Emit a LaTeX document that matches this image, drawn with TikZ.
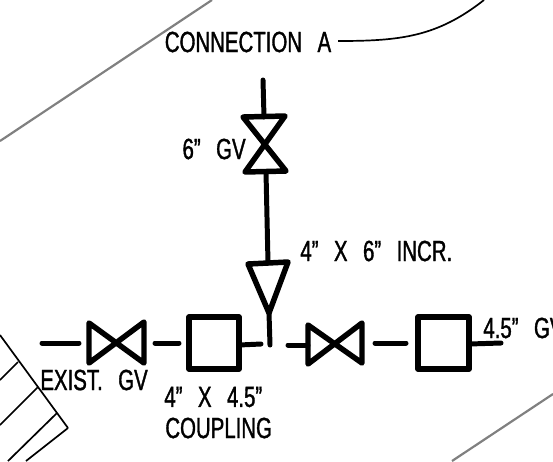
\documentclass[tikz,border=0pt]{standalone}
\usepackage{fontspec}
\setmainfont[FakeStretch=.70,FakeBold=1.2]{Liberation Sans}
\newcommand{\wordgap}{\hspace{8.8pt}}
\tikzset{pipe/.style = {line width=5pt*.5669, line cap=round, line join=round}}
\tikzset{fitting/.style = {line width=5.5pt*.5669, line cap=round, line join=round}}
\tikzset{thin edge/.style = {line width=1.7pt*.5669}}
\tikzset{grey edge/.style = {line width=2.2pt*.5669, color=black!50}}
\tikzset{cad/.style = {inner sep=0pt, font=\fontsize{16.6pt}{18pt}\selectfont}}
\begin{document}
\begin{tikzpicture}[x=.02cm, y=-.02cm]
			\useasboundingbox (0, 0) rectangle (553, 461);
			\clip (0, 0) rectangle (553, 461);
			% background lines
			\node (0) at (0, 141) {};
			\node (1) at (212, 0) {};
			\node (2) at (553, 394) {};
			\node (3) at (452, 461) {};
			\node (4) at (338, 41) {};
			\node (5) at (484, 0) {};
			\node (6) at (0, 335) {};
			\node (7) at (68, 428) {};
			\node (8) at (26, 461) {};
			\node (9) at (18, 362) {};
			\node (10) at (0, 380) {};
			\node (11) at (38, 387) {};
			\node (12) at (0, 425) {};
			\node (13) at (57, 413) {};
			\node (14) at (8, 461) {};
			\draw [grey edge] (0.center) to (1.center);
			\draw [grey edge] (2.center) to (3.center);
			\draw [thin edge] (4.center) .. controls (400, 41) and (437, 37) .. (5.center);
			\draw [thin edge] (6.center) to (7.center);
			\draw [thin edge] (7.center) to (8.center);
			\draw [thin edge] (9.center) to (10.center);
			\draw [thin edge] (11.center) to (12.center);
			\draw [thin edge] (13.center) to (14.center);
			% vertical run
			\node (15) at (263, 80) {};
			\node (16) at (264, 117) {};
			\node (17) at (243, 117) {};
			\node (18) at (285, 116) {};
			\node (19) at (245, 172) {};
			\node (20) at (286, 171) {};
			\node (21) at (266, 172) {};
			\node (22) at (268, 263) {};
			\node (23) at (248, 264) {};
			\node (24) at (288, 262) {};
			\node (25) at (269, 313) {};
			\node (26) at (270, 345) {};
			\draw [pipe] (15.center) to (16.center);
			\draw [fitting] (17.center) to (18.center) to (19.center) to (20.center) to cycle;
			\draw [pipe] (21.center) to (22.center);
			\draw [fitting] (23.center) to (24.center) to (25.center) to cycle;
			\draw [pipe] (25.center) to (26.center);
			% horizontal run
			\node (27) at (42, 343) {};
			\node (28) at (79, 343) {};
			\node (29) at (89, 323) {};
			\node (30) at (89, 363) {};
			\node (31) at (144, 322) {};
			\node (32) at (144, 363) {};
			\node (33) at (155, 343) {};
			\node (34) at (179, 343) {};
			\node (35) at (189, 317) {};
			\node (36) at (239, 317) {};
			\node (37) at (239, 369) {};
			\node (38) at (189, 369) {};
			\node (39) at (239, 345) {};
			\node (40) at (261, 344) {};
			\node (41) at (288, 345) {};
			\node (42) at (308, 345) {};
			\node (43) at (308, 325) {};
			\node (44) at (308, 364) {};
			\node (45) at (362, 323) {};
			\node (46) at (362, 363) {};
			\node (47) at (375, 343) {};
			\node (48) at (406, 343) {};
			\node (49) at (418, 317) {};
			\node (50) at (469, 317) {};
			\node (51) at (469, 369) {};
			\node (52) at (418, 369) {};
			\node (53) at (469, 344) {};
			\node (54) at (501, 343) {};
			\draw [pipe] (27.center) to (28.center);
			\draw [fitting] (29.center) to (32.center) to (31.center) to (30.center) to cycle;
			\draw [pipe] (33.center) to (34.center);
			\draw [fitting] (35.center) to (36.center) to (37.center) to (38.center) to cycle;
			\draw [pipe] (39.center) to (40.center);
			\draw [pipe] (41.center) to (42.center);
			\draw [fitting] (43.center) to (46.center) to (45.center) to (44.center) to cycle;
			\draw [pipe] (47.center) to (48.center);
			\draw [fitting] (49.center) to (50.center) to (51.center) to (52.center) to cycle;
			\draw [pipe] (53.center) to (54.center);
			% labels
			\node [cad] (55) at (248, 42) {CONNECTION\wordgap A};
			\node [cad, anchor=east] (56) at (246, 149) {6”\wordgap GV};
			\node [cad, anchor=west] (57) at (300, 251) {4”\wordgap X\wordgap 6”\wordgap INCR.};
			\node [cad, anchor=west] (58) at (40, 380) {EXIST.\wordgap GV};
			\node [cad, anchor=west] (59) at (164, 397) {4”\wordgap X\wordgap 4.5”};
			\node [cad, anchor=west] (60) at (165, 428) {COUPLING};
			\node [cad, anchor=west] (61) at (483, 328) {4.5”\wordgap GV};
		\end{tikzpicture}
\end{document}
